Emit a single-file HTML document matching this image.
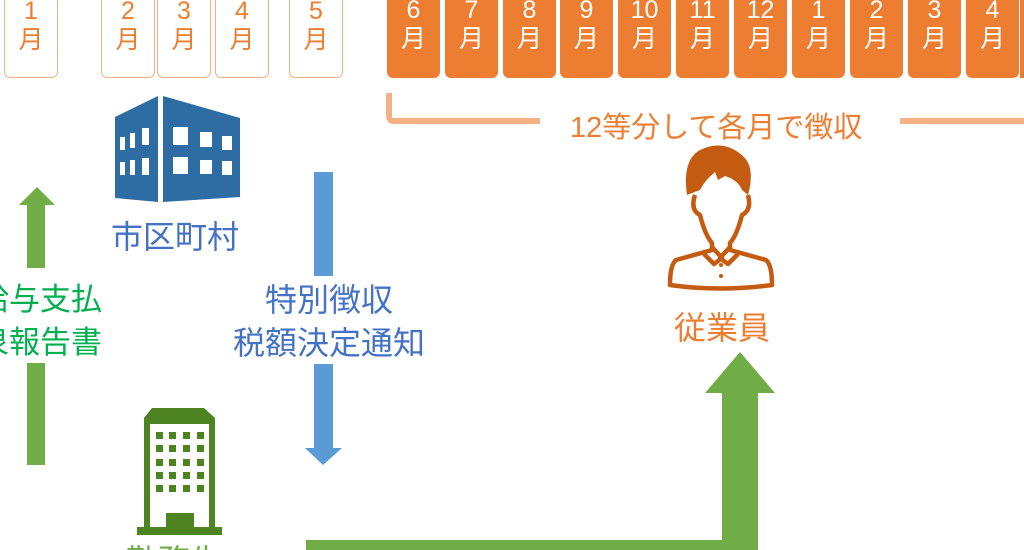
<!DOCTYPE html>
<html><head><meta charset="utf-8"><style>
body{margin:0;width:1024px;height:550px;overflow:hidden;background:#fff;position:relative;font-family:"Liberation Sans","Noto Sans CJK JP",sans-serif}
.m{position:absolute;top:-6px;height:84px;border-radius:0 0 6px 6px;text-align:center;font-size:25px;line-height:29px;box-sizing:border-box}
.o{background:#ed7d31;color:#fff;width:53px}
.w{border:1.5px solid #f4b183;color:#ed7d31;width:54px;padding-top:2px}
.o{padding-top:2px}
.t{position:absolute;white-space:nowrap}
</style></head><body>
<div class="m w" style="left:4px">1<br>月</div>
<div class="m w" style="left:101px">2<br>月</div>
<div class="m w" style="left:157px">3<br>月</div>
<div class="m w" style="left:215px">4<br>月</div>
<div class="m w" style="left:289px">5<br>月</div>
<div class="m o" style="left:387px">6<br>月</div>
<div class="m o" style="left:445px">7<br>月</div>
<div class="m o" style="left:503px">8<br>月</div>
<div class="m o" style="left:560px">9<br>月</div>
<div class="m o" style="left:618px">10<br>月</div>
<div class="m o" style="left:676px">11<br>月</div>
<div class="m o" style="left:734px">12<br>月</div>
<div class="m o" style="left:792px">1<br>月</div>
<div class="m o" style="left:850px">2<br>月</div>
<div class="m o" style="left:908px">3<br>月</div>
<div class="m o" style="left:966px">4<br>月</div>
<div class="m o" style="left:1020px;width:4px;overflow:hidden;border-radius:0"></div>
<svg width="1024" height="550" style="position:absolute;left:0;top:0">
<path d="M389 93 V116 Q389 121 394 121 H540 M900 121 H1024" stroke="#f4b183" stroke-width="6" fill="none"/>
<path d="M115 117 L158 96 V202 L115 198Z M163 96 L240 118 V197 L163 202Z" fill="#2e6ca4"/>
<g fill="#fff"><rect x="120" y="137" width="5" height="13"/><rect x="130" y="133" width="5" height="15"/><rect x="142" y="128" width="7" height="17"/>
<rect x="120" y="162" width="5" height="13"/><rect x="130" y="160" width="5" height="15"/><rect x="142" y="158" width="7" height="17"/>
<rect x="173" y="127" width="15" height="18"/><rect x="200" y="132" width="12" height="15"/><rect x="222" y="136" width="10" height="14"/>
<rect x="173" y="157" width="15" height="17"/><rect x="200" y="160" width="12" height="14"/><rect x="222" y="161" width="10" height="14"/></g>
<path d="M27 465 V205 H19 L37 187 L55 205 H45 V465Z" fill="#70ad47"/>
<rect x="20" y="268" width="40" height="95" fill="#fff"/>
<path d="M314 172 V448 H305 L323 465 L342 448 H333 V172Z" fill="#5b9bd5"/>
<rect x="300" y="276" width="50" height="88" fill="#fff"/>
<path d="M152 408 H204 L215 418 V527 H222 V535 H137 V527 H144 V418Z" fill="#4e8321"/>
<rect x="150" y="424" width="59" height="103" fill="#fff"/>
<g fill="#4e8321">
<g id="r"><rect x="156" y="432" width="7" height="7"/><rect x="169" y="432" width="7" height="7"/><rect x="183" y="432" width="7" height="7"/><rect x="197" y="432" width="7" height="7"/></g>
<use href="#r" y="13"/><use href="#r" y="27"/><use href="#r" y="40"/><use href="#r" y="53"/>
<rect x="166" y="513" width="28" height="15"/></g>
<path d="M306 540 H722 V393 H705 L740 352 L775 393 H758 V550 H306Z" fill="#70ad47"/>
<g fill="none" stroke="#c55a11" stroke-width="4.5" stroke-linejoin="round">
<path d="M695 195 Q690 210 700 215 Q705 235 712 243 V250 L676 260 Q670 265 670 285 Q720 292 772 285 Q772 265 766 260 L730 250 V243 Q737 235 742 215 Q752 210 748 195"/>
<path d="M712 247 L722 258 L714 264 L704 254 M730 247 L720 258 L728 264 L738 254"/>
</g>
<path d="M687 195 Q682 160 700 150 Q725 138 745 158 Q755 170 748 195 L742 190 Q738 180 725 176 L718 180 L715 172 Q705 180 700 190 Z" fill="#c55a11"/>
<circle cx="721" cy="265" r="2" fill="#c55a11"/><circle cx="721" cy="276" r="2" fill="#c55a11"/>
</svg>
<div class="t" style="left:570px;top:104px;font-size:29px;color:#ed7d31">12等分して各月で徴収</div>
<div class="t" style="left:111px;top:212px;font-size:32px;color:#4472c4">市区町村</div>
<div style="position:absolute;left:0;top:278px;width:110px;height:90px;overflow:hidden">
<div class="t" style="right:8px;top:0;font-size:31px;line-height:43px;color:#00b050;text-align:right">給与支払<br>源泉報告書</div></div>
<div class="t" style="left:218px;top:279px;width:222px;font-size:32px;line-height:43px;color:#4472c4;text-align:center">特別徴収<br>税額決定通知</div>
<div class="t" style="left:674px;top:303px;font-size:32px;color:#ed7d31">従業員</div>
<div style="position:absolute;left:120px;top:536px;width:120px;height:14px;overflow:hidden">
<div class="t" style="left:6px;top:0;font-size:32px;color:#70ad47">勤務先</div></div>
</body></html>
